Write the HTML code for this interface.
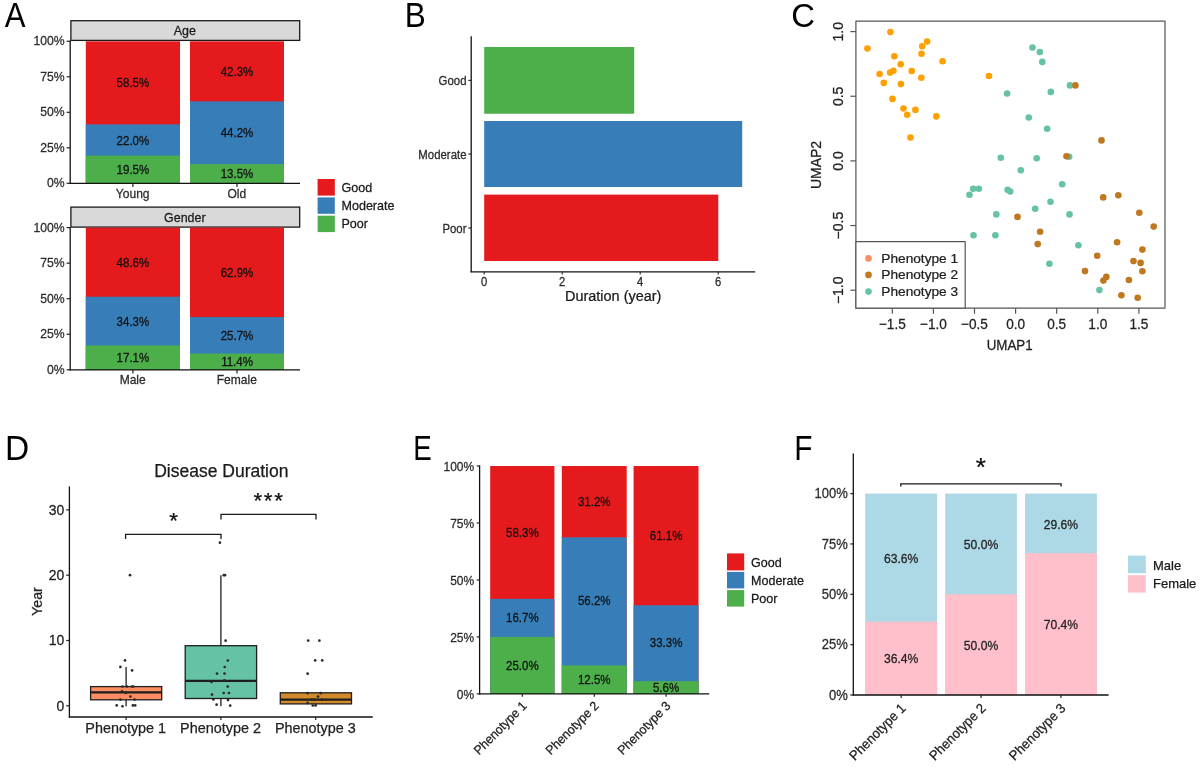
<!DOCTYPE html>
<html><head><meta charset="utf-8"><title>Figure</title>
<style>
html,body{margin:0;padding:0;background:#fff;}
body{width:1200px;height:768px;overflow:hidden;}
svg{display:block;filter:blur(0.35px);font-family:"Liberation Sans",sans-serif;}
</style></head><body>
<svg width="1200" height="768" viewBox="0 0 1200 768">
<rect width="1200" height="768" fill="#fff"/>
<text font-size="34.2" fill="#000" transform="translate(4.64,27.1) scale(0.91,1)">A</text>
<text font-size="34.2" fill="#000" transform="translate(404.72,27.1) scale(0.92,1)">B</text>
<text font-size="33.2" fill="#000" transform="translate(791.13,26.9) scale(0.99,1)">C</text>
<text font-size="34.2" fill="#000" transform="translate(5.05,459.8) scale(0.98,1)">D</text>
<text font-size="34.2" fill="#000" transform="translate(413.13,459.8) scale(0.81,1)">E</text>
<text font-size="34.2" fill="#000" transform="translate(794.16,459.8) scale(0.87,1)">F</text>
<rect x="70.9" y="20.7" width="228.8" height="19.7" fill="#D9D9D9" stroke="#1a1a1a" stroke-width="1.3"/>
<text font-size="12.45" text-anchor="middle" fill="#1a1a1a" stroke="#1a1a1a" stroke-width="0.25" transform="translate(184.8,35.25) scale(1,1.04)">Age</text>
<rect x="85.8" y="41.3" width="94.2" height="142" fill="#E41A1C"/>
<rect x="85.8" y="124.37" width="94.2" height="58.93" fill="#377EB8"/>
<rect x="85.8" y="155.61" width="94.2" height="27.69" fill="#4DAF4A"/>
<text font-size="11.5" text-anchor="middle" fill="#111111" stroke="#111111" stroke-width="0.25" transform="translate(132.9,173.97) scale(1,1.04)">19.5%</text>
<text font-size="11.5" text-anchor="middle" fill="#111111" stroke="#111111" stroke-width="0.25" transform="translate(132.9,144.5) scale(1,1.04)">22.0%</text>
<text font-size="11.5" text-anchor="middle" fill="#111111" stroke="#111111" stroke-width="0.25" transform="translate(132.9,87.35) scale(1,1.04)">58.5%</text>
<rect x="190" y="41.3" width="94" height="142" fill="#E41A1C"/>
<rect x="190" y="101.37" width="94" height="81.93" fill="#377EB8"/>
<rect x="190" y="164.13" width="94" height="19.17" fill="#4DAF4A"/>
<text font-size="11.5" text-anchor="middle" fill="#111111" stroke="#111111" stroke-width="0.25" transform="translate(237,178.23) scale(1,1.04)">13.5%</text>
<text font-size="11.5" text-anchor="middle" fill="#111111" stroke="#111111" stroke-width="0.25" transform="translate(237,137.26) scale(1,1.04)">44.2%</text>
<text font-size="11.5" text-anchor="middle" fill="#111111" stroke="#111111" stroke-width="0.25" transform="translate(237,75.85) scale(1,1.04)">42.3%</text>
<line x1="70.2" y1="40.4" x2="70.2" y2="183.9" stroke="#111111" stroke-width="1.3"/>
<line x1="69.6" y1="183.3" x2="300" y2="183.3" stroke="#111111" stroke-width="1.3"/>
<line x1="66.6" y1="183.3" x2="70.2" y2="183.3" stroke="#222222" stroke-width="1.2"/>
<text font-size="12.2" text-anchor="end" fill="#2b2b2b" stroke="#2b2b2b" stroke-width="0.25" transform="translate(64.6,187.48) scale(1,1.08)">0%</text>
<line x1="66.6" y1="147.8" x2="70.2" y2="147.8" stroke="#222222" stroke-width="1.2"/>
<text font-size="12.2" text-anchor="end" fill="#2b2b2b" stroke="#2b2b2b" stroke-width="0.25" transform="translate(64.6,151.98) scale(1,1.08)">25%</text>
<line x1="66.6" y1="112.3" x2="70.2" y2="112.3" stroke="#222222" stroke-width="1.2"/>
<text font-size="12.2" text-anchor="end" fill="#2b2b2b" stroke="#2b2b2b" stroke-width="0.25" transform="translate(64.6,116.48) scale(1,1.08)">50%</text>
<line x1="66.6" y1="76.8" x2="70.2" y2="76.8" stroke="#222222" stroke-width="1.2"/>
<text font-size="12.2" text-anchor="end" fill="#2b2b2b" stroke="#2b2b2b" stroke-width="0.25" transform="translate(64.6,80.98) scale(1,1.08)">75%</text>
<line x1="66.6" y1="41.3" x2="70.2" y2="41.3" stroke="#222222" stroke-width="1.2"/>
<text font-size="12.2" text-anchor="end" fill="#2b2b2b" stroke="#2b2b2b" stroke-width="0.25" transform="translate(64.6,45.48) scale(1,1.08)">100%</text>
<line x1="132.9" y1="183.3" x2="132.9" y2="186.9" stroke="#222222" stroke-width="1.2"/>
<text font-size="12.05" text-anchor="middle" fill="#2b2b2b" stroke="#2b2b2b" stroke-width="0.25" transform="translate(132.7,197.8) scale(1,1.04)">Young</text>
<line x1="237" y1="183.3" x2="237" y2="186.9" stroke="#222222" stroke-width="1.2"/>
<text font-size="12.05" text-anchor="middle" fill="#2b2b2b" stroke="#2b2b2b" stroke-width="0.25" transform="translate(236.8,197.8) scale(1,1.04)">Old</text>
<rect x="70.9" y="207.1" width="228.8" height="20" fill="#D9D9D9" stroke="#1a1a1a" stroke-width="1.3"/>
<text font-size="12.45" text-anchor="middle" fill="#1a1a1a" stroke="#1a1a1a" stroke-width="0.25" transform="translate(184.8,221.8) scale(1,1.04)">Gender</text>
<rect x="85.8" y="227.6" width="94.2" height="142.2" fill="#E41A1C"/>
<rect x="85.8" y="296.71" width="94.2" height="73.09" fill="#377EB8"/>
<rect x="85.8" y="345.48" width="94.2" height="24.32" fill="#4DAF4A"/>
<text font-size="11.5" text-anchor="middle" fill="#111111" stroke="#111111" stroke-width="0.25" transform="translate(132.9,362.16) scale(1,1.04)">17.1%</text>
<text font-size="11.5" text-anchor="middle" fill="#111111" stroke="#111111" stroke-width="0.25" transform="translate(132.9,325.61) scale(1,1.04)">34.3%</text>
<text font-size="11.5" text-anchor="middle" fill="#111111" stroke="#111111" stroke-width="0.25" transform="translate(132.9,266.67) scale(1,1.04)">48.6%</text>
<rect x="190" y="227.6" width="94" height="142.2" fill="#E41A1C"/>
<rect x="190" y="317.04" width="94" height="52.76" fill="#377EB8"/>
<rect x="190" y="353.59" width="94" height="16.21" fill="#4DAF4A"/>
<text font-size="11.5" text-anchor="middle" fill="#111111" stroke="#111111" stroke-width="0.25" transform="translate(237,366.21) scale(1,1.04)">11.4%</text>
<text font-size="11.5" text-anchor="middle" fill="#111111" stroke="#111111" stroke-width="0.25" transform="translate(237,339.83) scale(1,1.04)">25.7%</text>
<text font-size="11.5" text-anchor="middle" fill="#111111" stroke="#111111" stroke-width="0.25" transform="translate(237,276.84) scale(1,1.04)">62.9%</text>
<line x1="70.2" y1="227.1" x2="70.2" y2="370.4" stroke="#111111" stroke-width="1.3"/>
<line x1="69.6" y1="369.8" x2="300" y2="369.8" stroke="#111111" stroke-width="1.3"/>
<line x1="66.6" y1="369.8" x2="70.2" y2="369.8" stroke="#222222" stroke-width="1.2"/>
<text font-size="12.2" text-anchor="end" fill="#2b2b2b" stroke="#2b2b2b" stroke-width="0.25" transform="translate(64.6,373.98) scale(1,1.08)">0%</text>
<line x1="66.6" y1="334.25" x2="70.2" y2="334.25" stroke="#222222" stroke-width="1.2"/>
<text font-size="12.2" text-anchor="end" fill="#2b2b2b" stroke="#2b2b2b" stroke-width="0.25" transform="translate(64.6,338.43) scale(1,1.08)">25%</text>
<line x1="66.6" y1="298.7" x2="70.2" y2="298.7" stroke="#222222" stroke-width="1.2"/>
<text font-size="12.2" text-anchor="end" fill="#2b2b2b" stroke="#2b2b2b" stroke-width="0.25" transform="translate(64.6,302.88) scale(1,1.08)">50%</text>
<line x1="66.6" y1="263.15" x2="70.2" y2="263.15" stroke="#222222" stroke-width="1.2"/>
<text font-size="12.2" text-anchor="end" fill="#2b2b2b" stroke="#2b2b2b" stroke-width="0.25" transform="translate(64.6,267.33) scale(1,1.08)">75%</text>
<line x1="66.6" y1="227.6" x2="70.2" y2="227.6" stroke="#222222" stroke-width="1.2"/>
<text font-size="12.2" text-anchor="end" fill="#2b2b2b" stroke="#2b2b2b" stroke-width="0.25" transform="translate(64.6,231.78) scale(1,1.08)">100%</text>
<line x1="132.9" y1="369.8" x2="132.9" y2="373.4" stroke="#222222" stroke-width="1.2"/>
<text font-size="12.05" text-anchor="middle" fill="#2b2b2b" stroke="#2b2b2b" stroke-width="0.25" transform="translate(132.7,384.3) scale(1,1.04)">Male</text>
<line x1="237" y1="369.8" x2="237" y2="373.4" stroke="#222222" stroke-width="1.2"/>
<text font-size="12.05" text-anchor="middle" fill="#2b2b2b" stroke="#2b2b2b" stroke-width="0.25" transform="translate(236.8,384.3) scale(1,1.04)">Female</text>
<rect x="317.6" y="179" width="17.2" height="16.6" fill="#E41A1C"/>
<rect x="317.6" y="197.4" width="17.2" height="16.4" fill="#377EB8"/>
<rect x="317.6" y="215.7" width="17.2" height="16.4" fill="#4DAF4A"/>
<text font-size="12.3" text-anchor="start" fill="#1a1a1a" stroke="#1a1a1a" stroke-width="0.25" transform="translate(341.5,192) scale(1.02,1.04)">Good</text>
<text font-size="12.3" text-anchor="start" fill="#1a1a1a" stroke="#1a1a1a" stroke-width="0.25" transform="translate(341.5,210) scale(1.02,1.04)">Moderate</text>
<text font-size="12.3" text-anchor="start" fill="#1a1a1a" stroke="#1a1a1a" stroke-width="0.25" transform="translate(341.5,228) scale(1.02,1.04)">Poor</text>
<rect x="484.2" y="47" width="150" height="66.75" fill="#4DAF4A"/>
<rect x="484.2" y="121" width="258" height="66" fill="#377EB8"/>
<rect x="484.2" y="194.6" width="234.1" height="66.4" fill="#E41A1C"/>
<line x1="471.2" y1="36.3" x2="471.2" y2="272.3" stroke="#111111" stroke-width="1.3"/>
<line x1="470.6" y1="271.8" x2="755.2" y2="271.8" stroke="#111111" stroke-width="1.3"/>
<line x1="468.4" y1="80.4" x2="471.2" y2="80.4" stroke="#222222" stroke-width="1.2"/>
<text font-size="11.4" text-anchor="end" fill="#2b2b2b" stroke="#2b2b2b" stroke-width="0.25" transform="translate(466.5,85.18) scale(1,1.04)">Good</text>
<line x1="468.4" y1="154" x2="471.2" y2="154" stroke="#222222" stroke-width="1.2"/>
<text font-size="11.4" text-anchor="end" fill="#2b2b2b" stroke="#2b2b2b" stroke-width="0.25" transform="translate(466.5,158.78) scale(1,1.04)">Moderate</text>
<line x1="468.4" y1="228" x2="471.2" y2="228" stroke="#222222" stroke-width="1.2"/>
<text font-size="11.4" text-anchor="end" fill="#2b2b2b" stroke="#2b2b2b" stroke-width="0.25" transform="translate(466.5,232.78) scale(1,1.04)">Poor</text>
<line x1="484.2" y1="271.8" x2="484.2" y2="274.6" stroke="#222222" stroke-width="1.1"/>
<text font-size="11.2" text-anchor="middle" fill="#2b2b2b" stroke="#2b2b2b" stroke-width="0.25" transform="translate(484.2,285.93) scale(1,1.15)">0</text>
<line x1="562.2" y1="271.8" x2="562.2" y2="274.6" stroke="#222222" stroke-width="1.1"/>
<text font-size="11.2" text-anchor="middle" fill="#2b2b2b" stroke="#2b2b2b" stroke-width="0.25" transform="translate(562.2,285.93) scale(1,1.15)">2</text>
<line x1="640.2" y1="271.8" x2="640.2" y2="274.6" stroke="#222222" stroke-width="1.1"/>
<text font-size="11.2" text-anchor="middle" fill="#2b2b2b" stroke="#2b2b2b" stroke-width="0.25" transform="translate(640.2,285.93) scale(1,1.15)">4</text>
<line x1="718.2" y1="271.8" x2="718.2" y2="274.6" stroke="#222222" stroke-width="1.1"/>
<text font-size="11.2" text-anchor="middle" fill="#2b2b2b" stroke="#2b2b2b" stroke-width="0.25" transform="translate(718.2,285.93) scale(1,1.15)">6</text>
<text font-size="14.47" text-anchor="middle" fill="#1a1a1a" stroke="#1a1a1a" stroke-width="0.25" transform="translate(613.2,300.75) scale(1,0.96)">Duration (year)</text>
<rect x="855.9" y="21.1" width="309.1" height="287.0" fill="none" stroke="#555" stroke-width="1.2" stroke-linejoin="round"/>
<line x1="850.4" y1="31.6" x2="855.9" y2="31.6" stroke="#555" stroke-width="1.2"/>
<text font-size="14" text-anchor="middle" fill="#222" stroke="#222" stroke-width="0.25" transform="translate(842.6,31.7) rotate(-90)">1.0</text>
<line x1="850.4" y1="96.25" x2="855.9" y2="96.25" stroke="#555" stroke-width="1.2"/>
<text font-size="14" text-anchor="middle" fill="#222" stroke="#222" stroke-width="0.25" transform="translate(842.6,96.35) rotate(-90)">0.5</text>
<line x1="850.4" y1="160.9" x2="855.9" y2="160.9" stroke="#555" stroke-width="1.2"/>
<text font-size="14" text-anchor="middle" fill="#222" stroke="#222" stroke-width="0.25" transform="translate(842.6,161) rotate(-90)">0.0</text>
<line x1="850.4" y1="225.55" x2="855.9" y2="225.55" stroke="#555" stroke-width="1.2"/>
<text font-size="14" text-anchor="middle" fill="#222" stroke="#222" stroke-width="0.25" transform="translate(842.6,225.65) rotate(-90)">−0.5</text>
<line x1="850.4" y1="290.2" x2="855.9" y2="290.2" stroke="#555" stroke-width="1.2"/>
<text font-size="14" text-anchor="middle" fill="#222" stroke="#222" stroke-width="0.25" transform="translate(842.6,290.3) rotate(-90)">−1.0</text>
<line x1="892.3" y1="308.1" x2="892.3" y2="313.8" stroke="#555" stroke-width="1.2"/>
<text font-size="13.6" text-anchor="middle" fill="#222" stroke="#222" stroke-width="0.25" transform="translate(892.3,328.7) scale(1,1.08)">−1.5</text>
<line x1="933.4" y1="308.1" x2="933.4" y2="313.8" stroke="#555" stroke-width="1.2"/>
<text font-size="13.6" text-anchor="middle" fill="#222" stroke="#222" stroke-width="0.25" transform="translate(933.4,328.7) scale(1,1.08)">−1.0</text>
<line x1="974.5" y1="308.1" x2="974.5" y2="313.8" stroke="#555" stroke-width="1.2"/>
<text font-size="13.6" text-anchor="middle" fill="#222" stroke="#222" stroke-width="0.25" transform="translate(974.5,328.7) scale(1,1.08)">−0.5</text>
<line x1="1015.6" y1="308.1" x2="1015.6" y2="313.8" stroke="#555" stroke-width="1.2"/>
<text font-size="13.6" text-anchor="middle" fill="#222" stroke="#222" stroke-width="0.25" transform="translate(1015.6,328.7) scale(1,1.08)">0.0</text>
<line x1="1056.7" y1="308.1" x2="1056.7" y2="313.8" stroke="#555" stroke-width="1.2"/>
<text font-size="13.6" text-anchor="middle" fill="#222" stroke="#222" stroke-width="0.25" transform="translate(1056.7,328.7) scale(1,1.08)">0.5</text>
<line x1="1097.8" y1="308.1" x2="1097.8" y2="313.8" stroke="#555" stroke-width="1.2"/>
<text font-size="13.6" text-anchor="middle" fill="#222" stroke="#222" stroke-width="0.25" transform="translate(1097.8,328.7) scale(1,1.08)">1.0</text>
<line x1="1138.9" y1="308.1" x2="1138.9" y2="313.8" stroke="#555" stroke-width="1.2"/>
<text font-size="13.6" text-anchor="middle" fill="#222" stroke="#222" stroke-width="0.25" transform="translate(1138.9,328.7) scale(1,1.08)">1.5</text>
<text font-size="13.35" text-anchor="middle" fill="#222" stroke="#222" stroke-width="0.25" transform="translate(1009.7,350) scale(1,1.07)">UMAP1</text>
<text font-size="14" text-anchor="middle" fill="#222" stroke="#222" stroke-width="0.25" transform="translate(820.5,165) rotate(-90) scale(1,1.06)">UMAP2</text>
<g fill="#FFA000"><circle cx="867.4" cy="48.5" r="3.3"/><circle cx="890.4" cy="32.1" r="3.3"/><circle cx="894.3" cy="56.2" r="3.3"/><circle cx="900.7" cy="64.2" r="3.3"/><circle cx="879.6" cy="74" r="3.3"/><circle cx="890.1" cy="72.6" r="3.3"/><circle cx="893.4" cy="70.8" r="3.3"/><circle cx="911.7" cy="71" r="3.3"/><circle cx="883.8" cy="82.9" r="3.3"/><circle cx="900.9" cy="84.1" r="3.3"/><circle cx="921.3" cy="77.8" r="3.3"/><circle cx="921.5" cy="53.7" r="3.3"/><circle cx="922.2" cy="46.2" r="3.3"/><circle cx="927.1" cy="41.5" r="3.3"/><circle cx="942.6" cy="61.2" r="3.3"/><circle cx="892.5" cy="98.9" r="3.3"/><circle cx="903.5" cy="108.5" r="3.3"/><circle cx="907.2" cy="114.8" r="3.3"/><circle cx="915.4" cy="109.9" r="3.3"/><circle cx="936.3" cy="116.4" r="3.3"/><circle cx="910.5" cy="137.5" r="3.3"/><circle cx="989" cy="76" r="3.3"/></g>
<g fill="#66C2A5"><circle cx="1032.5" cy="47.5" r="3.3"/><circle cx="1039.8" cy="52.1" r="3.3"/><circle cx="1042.3" cy="61.9" r="3.3"/><circle cx="1070" cy="85.4" r="3.3"/><circle cx="1007.1" cy="93.5" r="3.3"/><circle cx="1050.8" cy="91.9" r="3.3"/><circle cx="1028.75" cy="117.5" r="3.3"/><circle cx="1047.1" cy="128.75" r="3.3"/><circle cx="1000.8" cy="157.7" r="3.3"/><circle cx="1036.7" cy="158.3" r="3.3"/><circle cx="1020.8" cy="170.2" r="3.3"/><circle cx="1069.2" cy="156.7" r="3.3"/><circle cx="1062.2" cy="184.3" r="3.3"/><circle cx="973.2" cy="188.7" r="3.3"/><circle cx="978.8" cy="188.7" r="3.3"/><circle cx="969.5" cy="194.7" r="3.3"/><circle cx="1007.6" cy="189.8" r="3.3"/><circle cx="1010.2" cy="191.6" r="3.3"/><circle cx="1050.5" cy="201.8" r="3.3"/><circle cx="1035.2" cy="208.7" r="3.3"/><circle cx="996.3" cy="214.4" r="3.3"/><circle cx="1069.5" cy="214.4" r="3.3"/><circle cx="973.5" cy="235.2" r="3.3"/><circle cx="995.4" cy="235.2" r="3.3"/><circle cx="1078.4" cy="245.2" r="3.3"/><circle cx="1049.4" cy="263.8" r="3.3"/><circle cx="1099.4" cy="290.1" r="3.3"/></g>
<g fill="#C07820"><circle cx="1075.4" cy="85.4" r="3.3"/><circle cx="1101.5" cy="140.4" r="3.3"/><circle cx="1066.5" cy="156.25" r="3.3"/><circle cx="1103.2" cy="197.4" r="3.3"/><circle cx="1118.3" cy="195.2" r="3.3"/><circle cx="1017.5" cy="216.9" r="3.3"/><circle cx="1139.3" cy="212.7" r="3.3"/><circle cx="1153.7" cy="226.6" r="3.3"/><circle cx="1040.1" cy="231.7" r="3.3"/><circle cx="1037.7" cy="244.1" r="3.3"/><circle cx="1117.1" cy="242.3" r="3.3"/><circle cx="1142.4" cy="249.6" r="3.3"/><circle cx="1097.2" cy="255.8" r="3.3"/><circle cx="1133.5" cy="261.1" r="3.3"/><circle cx="1140.6" cy="262.9" r="3.3"/><circle cx="1085" cy="271.1" r="3.3"/><circle cx="1142.4" cy="271.3" r="3.3"/><circle cx="1106.3" cy="276.9" r="3.3"/><circle cx="1103.4" cy="280.6" r="3.3"/><circle cx="1128.9" cy="280" r="3.3"/><circle cx="1121.4" cy="295.2" r="3.3"/><circle cx="1137.7" cy="297.7" r="3.3"/></g>
<rect x="855.9" y="241.6" width="109.3" height="66.6" fill="#fff" stroke="#555" stroke-width="1.2" stroke-linejoin="round"/>
<circle cx="868.5" cy="258.4" r="3.3" fill="#FC8D62"/>
<text font-size="13.7" text-anchor="start" fill="#222" stroke="#222" stroke-width="0.25" transform="translate(881.3,262.92) scale(1,0.96)">Phenotype 1</text>
<circle cx="868.5" cy="274.9" r="3.3" fill="#C07820"/>
<text font-size="13.7" text-anchor="start" fill="#222" stroke="#222" stroke-width="0.25" transform="translate(881.3,279.42) scale(1,0.96)">Phenotype 2</text>
<circle cx="868.5" cy="291.6" r="3.3" fill="#66C2A5"/>
<text font-size="13.7" text-anchor="start" fill="#222" stroke="#222" stroke-width="0.25" transform="translate(881.3,296.12) scale(1,0.96)">Phenotype 3</text>
<text font-size="17.5" text-anchor="middle" fill="#1a1a1a" stroke="#1a1a1a" stroke-width="0.25" transform="translate(221.3,476.6)">Disease Duration</text>
<line x1="69.4" y1="486.4" x2="69.4" y2="717.6" stroke="#111111" stroke-width="1.3"/>
<line x1="68.8" y1="717" x2="372.8" y2="717" stroke="#111111" stroke-width="1.3"/>
<line x1="66.2" y1="705.8" x2="69.4" y2="705.8" stroke="#222222" stroke-width="1.2"/>
<text font-size="14" text-anchor="end" fill="#222" stroke="#222" stroke-width="0.25" transform="translate(64.4,710.7) scale(1,1.1)">0</text>
<line x1="66.2" y1="640.5" x2="69.4" y2="640.5" stroke="#222222" stroke-width="1.2"/>
<text font-size="14" text-anchor="end" fill="#222" stroke="#222" stroke-width="0.25" transform="translate(64.4,645.4) scale(1,1.1)">10</text>
<line x1="66.2" y1="575.2" x2="69.4" y2="575.2" stroke="#222222" stroke-width="1.2"/>
<text font-size="14" text-anchor="end" fill="#222" stroke="#222" stroke-width="0.25" transform="translate(64.4,580.1) scale(1,1.1)">20</text>
<line x1="66.2" y1="509.9" x2="69.4" y2="509.9" stroke="#222222" stroke-width="1.2"/>
<text font-size="14" text-anchor="end" fill="#222" stroke="#222" stroke-width="0.25" transform="translate(64.4,514.8) scale(1,1.1)">30</text>
<line x1="126.1" y1="717" x2="126.1" y2="719.9" stroke="#222222" stroke-width="1.2"/>
<text font-size="14.4" text-anchor="middle" fill="#222" stroke="#222" stroke-width="0.25" transform="translate(125.7,732.5)">Phenotype 1</text>
<line x1="220.9" y1="717" x2="220.9" y2="719.9" stroke="#222222" stroke-width="1.2"/>
<text font-size="14.4" text-anchor="middle" fill="#222" stroke="#222" stroke-width="0.25" transform="translate(220.5,732.5)">Phenotype 2</text>
<line x1="315.7" y1="717" x2="315.7" y2="719.9" stroke="#222222" stroke-width="1.2"/>
<text font-size="14.4" text-anchor="middle" fill="#222" stroke="#222" stroke-width="0.25" transform="translate(315.3,732.5)">Phenotype 3</text>
<text font-size="14.15" text-anchor="middle" fill="#222" stroke="#222" stroke-width="0.25" transform="translate(41.9,601.5) rotate(-90) scale(1,0.99)">Year</text>
<line x1="126.1" y1="667" x2="126.1" y2="686.6" stroke="#1e1e1e" stroke-width="1.3"/>
<line x1="126.1" y1="699.8" x2="126.1" y2="706.3" stroke="#1e1e1e" stroke-width="1.3"/>
<rect x="90.6" y="686.6" width="71.1" height="13.2" fill="#FC8D62" stroke="#1e1e1e" stroke-width="1.3"/>
<line x1="90.6" y1="692.4" x2="161.7" y2="692.4" stroke="#1e1e1e" stroke-width="2.2"/>
<line x1="220.9" y1="575.2" x2="220.9" y2="645.7" stroke="#1e1e1e" stroke-width="1.3"/>
<line x1="220.9" y1="698.5" x2="220.9" y2="706.3" stroke="#1e1e1e" stroke-width="1.3"/>
<rect x="185.2" y="645.7" width="71.4" height="52.8" fill="#66C2A5" stroke="#1e1e1e" stroke-width="1.3"/>
<line x1="185.2" y1="680.9" x2="256.6" y2="680.9" stroke="#1e1e1e" stroke-width="2.2"/>
<line x1="315.7" y1="692.8" x2="315.7" y2="692.8" stroke="#1e1e1e" stroke-width="1.3"/>
<line x1="315.7" y1="703.9" x2="315.7" y2="706.3" stroke="#1e1e1e" stroke-width="1.3"/>
<rect x="280.3" y="692.8" width="71.2" height="11.1" fill="#D38A2B" stroke="#1e1e1e" stroke-width="1.3"/>
<line x1="280.3" y1="699.6" x2="351.5" y2="699.6" stroke="#1e1e1e" stroke-width="2.2"/>
<g fill="#2a2a2a"><circle cx="130" cy="575.2" r="1.35"/><circle cx="125" cy="660.4" r="1.35"/><circle cx="120.4" cy="666.9" r="1.35"/><circle cx="132.1" cy="670.4" r="1.35"/><circle cx="122.5" cy="686.5" r="1.35"/><circle cx="127.1" cy="686.5" r="1.35"/><circle cx="131.9" cy="686.5" r="1.35"/><circle cx="133.3" cy="686.5" r="1.35"/><circle cx="122.1" cy="691.25" r="1.35"/><circle cx="125.8" cy="692.9" r="1.35"/><circle cx="130.4" cy="696.5" r="1.35"/><circle cx="120.4" cy="699.6" r="1.35"/><circle cx="134.6" cy="699.6" r="1.35"/><circle cx="116.7" cy="705.4" r="1.35"/><circle cx="122.5" cy="706.25" r="1.35"/><circle cx="132.9" cy="705.4" r="1.35"/><circle cx="135.2" cy="705.4" r="1.35"/><circle cx="219.9" cy="542.7" r="1.35"/><circle cx="223.8" cy="575.2" r="1.35"/><circle cx="225" cy="575.2" r="1.35"/><circle cx="225.6" cy="640.7" r="1.35"/><circle cx="227.8" cy="660.5" r="1.35"/><circle cx="224.7" cy="667" r="1.35"/><circle cx="217" cy="673.6" r="1.35"/><circle cx="224.5" cy="673.6" r="1.35"/><circle cx="211.5" cy="682" r="1.35"/><circle cx="224.4" cy="680.3" r="1.35"/><circle cx="227.7" cy="686.6" r="1.35"/><circle cx="212" cy="694.6" r="1.35"/><circle cx="223.7" cy="693" r="1.35"/><circle cx="228.9" cy="693" r="1.35"/><circle cx="213.4" cy="699.5" r="1.35"/><circle cx="228" cy="700.1" r="1.35"/><circle cx="216.6" cy="704.7" r="1.35"/><circle cx="230.2" cy="705.6" r="1.35"/><circle cx="308.2" cy="640.6" r="1.35"/><circle cx="319.4" cy="640.6" r="1.35"/><circle cx="315.2" cy="660.4" r="1.35"/><circle cx="322.2" cy="660.4" r="1.35"/><circle cx="307.6" cy="673.7" r="1.35"/><circle cx="307.6" cy="693.2" r="1.35"/><circle cx="320.7" cy="693.2" r="1.35"/><circle cx="318" cy="696.6" r="1.35"/><circle cx="307.6" cy="702.9" r="1.35"/><circle cx="311.5" cy="699.7" r="1.35"/><circle cx="314.1" cy="699.7" r="1.35"/><circle cx="322" cy="699.7" r="1.35"/><circle cx="312.8" cy="705.5" r="1.35"/><circle cx="315.5" cy="705.5" r="1.35"/></g>
<path d="M125.6 539 V534.4 H221 V539" fill="none" stroke="#1a1a1a" stroke-width="1.3"/>
<path d="M221 519.6 V514.4 H316 V519.6" fill="none" stroke="#1a1a1a" stroke-width="1.3"/>
<text font-size="22.5" text-anchor="middle" fill="#111" stroke="#111" stroke-width="0.25" transform="translate(173.6,527.8)">*</text>
<text font-size="22.5" text-anchor="middle" fill="#111" stroke="#111" stroke-width="0.25" transform="translate(269,508.1)" letter-spacing="1.6">***</text>
<rect x="490.2" y="466" width="64.2" height="227.9" fill="#E41A1C"/>
<rect x="490.2" y="598.87" width="64.2" height="95.03" fill="#377EB8"/>
<rect x="490.2" y="636.92" width="64.2" height="56.98" fill="#4DAF4A"/>
<text font-size="11.5" text-anchor="middle" fill="#111111" stroke="#111111" stroke-width="0.25" transform="translate(522.3,669.53) scale(1,1.04)">25.0%</text>
<text font-size="11.5" text-anchor="middle" fill="#111111" stroke="#111111" stroke-width="0.25" transform="translate(522.3,622.01) scale(1,1.04)">16.7%</text>
<text font-size="11.5" text-anchor="middle" fill="#111111" stroke="#111111" stroke-width="0.25" transform="translate(522.3,536.55) scale(1,1.04)">58.3%</text>
<rect x="561.8" y="466" width="64.9" height="227.9" fill="#E41A1C"/>
<rect x="561.8" y="537.33" width="64.9" height="156.57" fill="#377EB8"/>
<rect x="561.8" y="665.41" width="64.9" height="28.49" fill="#4DAF4A"/>
<text font-size="11.5" text-anchor="middle" fill="#111111" stroke="#111111" stroke-width="0.25" transform="translate(594.25,683.77) scale(1,1.04)">12.5%</text>
<text font-size="11.5" text-anchor="middle" fill="#111111" stroke="#111111" stroke-width="0.25" transform="translate(594.25,605.49) scale(1,1.04)">56.2%</text>
<text font-size="11.5" text-anchor="middle" fill="#111111" stroke="#111111" stroke-width="0.25" transform="translate(594.25,505.78) scale(1,1.04)">31.2%</text>
<rect x="633.6" y="466" width="64.9" height="227.9" fill="#E41A1C"/>
<rect x="633.6" y="605.25" width="64.9" height="88.65" fill="#377EB8"/>
<rect x="633.6" y="681.14" width="64.9" height="12.76" fill="#4DAF4A"/>
<text font-size="11.5" text-anchor="middle" fill="#111111" stroke="#111111" stroke-width="0.25" transform="translate(666.05,691.63) scale(1,1.04)">5.6%</text>
<text font-size="11.5" text-anchor="middle" fill="#111111" stroke="#111111" stroke-width="0.25" transform="translate(666.05,647.31) scale(1,1.04)">33.3%</text>
<text font-size="11.5" text-anchor="middle" fill="#111111" stroke="#111111" stroke-width="0.25" transform="translate(666.05,539.74) scale(1,1.04)">61.1%</text>
<line x1="479.6" y1="465.4" x2="479.6" y2="694.5" stroke="#111111" stroke-width="1.3"/>
<line x1="479" y1="693.9" x2="709.2" y2="693.9" stroke="#111111" stroke-width="1.3"/>
<line x1="476.7" y1="693.9" x2="479.6" y2="693.9" stroke="#222222" stroke-width="1.2"/>
<text font-size="12" text-anchor="end" fill="#2b2b2b" stroke="#2b2b2b" stroke-width="0.25" transform="translate(474.2,698.59) scale(1,1.04)">0%</text>
<line x1="476.7" y1="636.92" x2="479.6" y2="636.92" stroke="#222222" stroke-width="1.2"/>
<text font-size="12" text-anchor="end" fill="#2b2b2b" stroke="#2b2b2b" stroke-width="0.25" transform="translate(474.2,641.62) scale(1,1.04)">25%</text>
<line x1="476.7" y1="579.95" x2="479.6" y2="579.95" stroke="#222222" stroke-width="1.2"/>
<text font-size="12" text-anchor="end" fill="#2b2b2b" stroke="#2b2b2b" stroke-width="0.25" transform="translate(474.2,584.64) scale(1,1.04)">50%</text>
<line x1="476.7" y1="522.98" x2="479.6" y2="522.98" stroke="#222222" stroke-width="1.2"/>
<text font-size="12" text-anchor="end" fill="#2b2b2b" stroke="#2b2b2b" stroke-width="0.25" transform="translate(474.2,527.67) scale(1,1.04)">75%</text>
<line x1="476.7" y1="466" x2="479.6" y2="466" stroke="#222222" stroke-width="1.2"/>
<text font-size="12" text-anchor="end" fill="#2b2b2b" stroke="#2b2b2b" stroke-width="0.25" transform="translate(474.2,470.69) scale(1,1.04)">100%</text>
<line x1="522.3" y1="693.9" x2="522.3" y2="696.7" stroke="#222222" stroke-width="1.2"/>
<text font-size="12.3" text-anchor="end" fill="#222" stroke="#222" stroke-width="0.25" transform="translate(527.7,706.7) rotate(-45) scale(1,1.04)">Phenotype 1</text>
<line x1="594.25" y1="693.9" x2="594.25" y2="696.7" stroke="#222222" stroke-width="1.2"/>
<text font-size="12.3" text-anchor="end" fill="#222" stroke="#222" stroke-width="0.25" transform="translate(599.65,706.7) rotate(-45) scale(1,1.04)">Phenotype 2</text>
<line x1="666.05" y1="693.9" x2="666.05" y2="696.7" stroke="#222222" stroke-width="1.2"/>
<text font-size="12.3" text-anchor="end" fill="#222" stroke="#222" stroke-width="0.25" transform="translate(671.45,706.7) rotate(-45) scale(1,1.04)">Phenotype 3</text>
<rect x="727" y="553.4" width="17.2" height="17" fill="#E41A1C"/>
<rect x="727" y="571.9" width="17.2" height="16.5" fill="#377EB8"/>
<rect x="727" y="590.1" width="17.2" height="16.5" fill="#4DAF4A"/>
<text font-size="12.3" text-anchor="start" fill="#1a1a1a" stroke="#1a1a1a" stroke-width="0.25" transform="translate(751,566.7) scale(1.02,1.04)">Good</text>
<text font-size="12.3" text-anchor="start" fill="#1a1a1a" stroke="#1a1a1a" stroke-width="0.25" transform="translate(751,584.6) scale(1.02,1.04)">Moderate</text>
<text font-size="12.3" text-anchor="start" fill="#1a1a1a" stroke="#1a1a1a" stroke-width="0.25" transform="translate(751,602.7) scale(1.02,1.04)">Poor</text>
<rect x="865.2" y="493.6" width="71.9" height="201.4" fill="#ADD8E6"/>
<rect x="865.2" y="621.69" width="71.9" height="73.31" fill="#FFC0CB"/>
<text font-size="12.15" text-anchor="middle" fill="#222" stroke="#222" stroke-width="0.25" transform="translate(901.15,663.49) scale(1,1.1)">36.4%</text>
<text font-size="12.15" text-anchor="middle" fill="#222" stroke="#222" stroke-width="0.25" transform="translate(901.15,562.79) scale(1,1.1)">63.6%</text>
<rect x="945.2" y="493.6" width="71.7" height="201.4" fill="#ADD8E6"/>
<rect x="945.2" y="594.3" width="71.7" height="100.7" fill="#FFC0CB"/>
<text font-size="12.15" text-anchor="middle" fill="#222" stroke="#222" stroke-width="0.25" transform="translate(981.05,649.8) scale(1,1.1)">50.0%</text>
<text font-size="12.15" text-anchor="middle" fill="#222" stroke="#222" stroke-width="0.25" transform="translate(981.05,549.1) scale(1,1.1)">50.0%</text>
<rect x="1025" y="493.6" width="71.85" height="201.4" fill="#ADD8E6"/>
<rect x="1025" y="553.21" width="71.85" height="141.79" fill="#FFC0CB"/>
<text font-size="12.15" text-anchor="middle" fill="#222" stroke="#222" stroke-width="0.25" transform="translate(1060.92,629.25) scale(1,1.1)">70.4%</text>
<text font-size="12.15" text-anchor="middle" fill="#222" stroke="#222" stroke-width="0.25" transform="translate(1060.92,528.55) scale(1,1.1)">29.6%</text>
<line x1="853.3" y1="453.4" x2="853.3" y2="695.6" stroke="#111111" stroke-width="1.3"/>
<line x1="852.7" y1="695" x2="1108.6" y2="695" stroke="#111111" stroke-width="1.3"/>
<line x1="850.3" y1="695" x2="853.3" y2="695" stroke="#222222" stroke-width="1.2"/>
<text font-size="13" text-anchor="end" fill="#2b2b2b" stroke="#2b2b2b" stroke-width="0.25" transform="translate(847.8,699.69) scale(1,1.07)">0%</text>
<line x1="850.3" y1="644.65" x2="853.3" y2="644.65" stroke="#222222" stroke-width="1.2"/>
<text font-size="13" text-anchor="end" fill="#2b2b2b" stroke="#2b2b2b" stroke-width="0.25" transform="translate(847.8,649.34) scale(1,1.07)">25%</text>
<line x1="850.3" y1="594.3" x2="853.3" y2="594.3" stroke="#222222" stroke-width="1.2"/>
<text font-size="13" text-anchor="end" fill="#2b2b2b" stroke="#2b2b2b" stroke-width="0.25" transform="translate(847.8,598.99) scale(1,1.07)">50%</text>
<line x1="850.3" y1="543.95" x2="853.3" y2="543.95" stroke="#222222" stroke-width="1.2"/>
<text font-size="13" text-anchor="end" fill="#2b2b2b" stroke="#2b2b2b" stroke-width="0.25" transform="translate(847.8,548.64) scale(1,1.07)">75%</text>
<line x1="850.3" y1="493.6" x2="853.3" y2="493.6" stroke="#222222" stroke-width="1.2"/>
<text font-size="13" text-anchor="end" fill="#2b2b2b" stroke="#2b2b2b" stroke-width="0.25" transform="translate(847.8,498.29) scale(1,1.07)">100%</text>
<line x1="901.15" y1="695" x2="901.15" y2="697.9" stroke="#222222" stroke-width="1.2"/>
<text font-size="13.1" text-anchor="end" fill="#222" stroke="#222" stroke-width="0.25" transform="translate(906.75,709.2) rotate(-45) scale(1,1.04)">Phenotype 1</text>
<line x1="981.05" y1="695" x2="981.05" y2="697.9" stroke="#222222" stroke-width="1.2"/>
<text font-size="13.1" text-anchor="end" fill="#222" stroke="#222" stroke-width="0.25" transform="translate(986.65,709.2) rotate(-45) scale(1,1.04)">Phenotype 2</text>
<line x1="1060.92" y1="695" x2="1060.92" y2="697.9" stroke="#222222" stroke-width="1.2"/>
<text font-size="13.1" text-anchor="end" fill="#222" stroke="#222" stroke-width="0.25" transform="translate(1066.52,709.2) rotate(-45) scale(1,1.04)">Phenotype 3</text>
<path d="M900.8 486.6 V483.85 H1061.1 V486.6" fill="none" stroke="#1a1a1a" stroke-width="1.3"/>
<text font-size="26" text-anchor="middle" fill="#111" stroke="#111" stroke-width="0.25" transform="translate(980.9,476.3)">*</text>
<rect x="1128" y="555.6" width="17.8" height="17.6" fill="#ADD8E6"/>
<rect x="1128" y="575.2" width="17.8" height="17.4" fill="#FFC0CB"/>
<text font-size="13" text-anchor="start" fill="#1a1a1a" stroke="#1a1a1a" stroke-width="0.25" transform="translate(1153,569.5)">Male</text>
<text font-size="13" text-anchor="start" fill="#1a1a1a" stroke="#1a1a1a" stroke-width="0.25" transform="translate(1153,588.4)">Female</text>
</svg>
</body></html>
